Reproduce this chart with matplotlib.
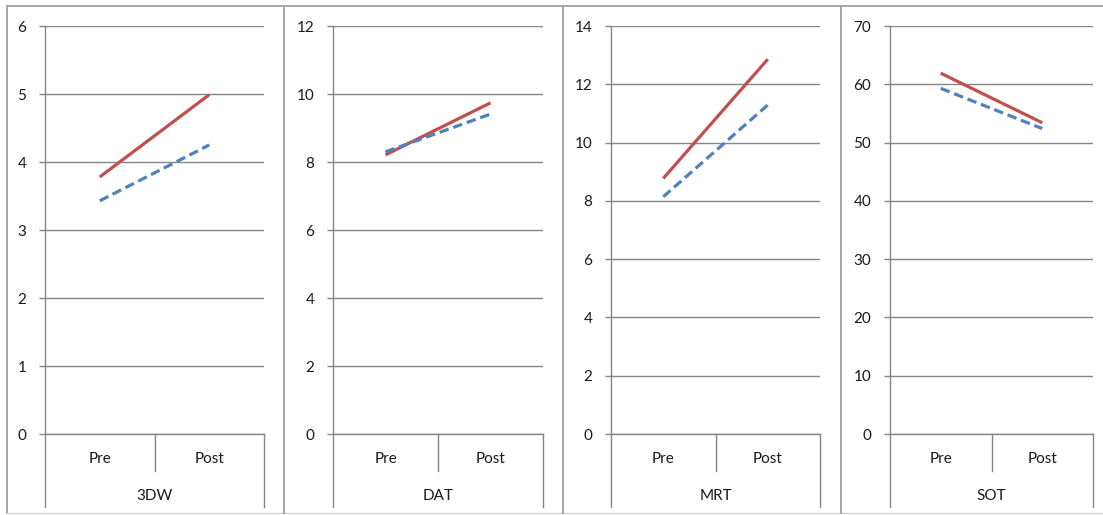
import matplotlib
matplotlib.use("Agg")
import matplotlib.pyplot as plt
from matplotlib.lines import Line2D

plt.rcParams['font.family'] = ['Lato', 'DejaVu Sans']

tests = ["3DW", "DAT", "MRT", "SOT"]
phases = ["Pre", "Post"]
red_series = [[3.78, 4.99], [8.21, 9.74], [8.77, 12.86], [61.9, 53.4]]
blue_series = [[3.43, 4.25], [8.30, 9.41], [8.14, 11.29], [59.3, 52.4]]
y_max = [6, 12, 14, 70]
y_step = [1, 2, 2, 10]

W, H = 1103, 515
fig = plt.figure(figsize=(W / 100, H / 100), dpi=100)

# panel geometry in pixels
panel_edges = [7, 284, 563, 841, 1103]
axis_left = [45, 333, 611, 890]
axis_right = [264, 543, 820, 1093]
top_px, zero_px = 26, 434

grid_c = "#868686"
frame_c = "#a0a0a0"
red = "#C0504D"
blue = "#4F81BD"
txt_c = "#1a1a1a"

def fline(x0, y0, x1, y1, c=frame_c, lw=1.0):
    fig.add_artist(Line2D([x0 / W, x1 / W], [1 - y0 / H, 1 - y1 / H],
                          color=c, lw=lw, transform=fig.transFigure))

fline(7, 6, 1103, 6, lw=1.3)
fline(7, 6, 7, 513, lw=1.3)
fline(7, 513, 1103, 513, c="#d0d0d0", lw=1.0)
for xe in panel_edges[1:4]:
    fline(xe, 6, xe, 513, lw=1.3)

for i, t in enumerate(tests):
    l, r = axis_left[i], axis_right[i]
    ax = fig.add_axes([l / W, 1 - zero_px / H, (r - l) / W, (zero_px - top_px) / H])
    ax.set_xlim(0, 2)
    ax.set_ylim(0, y_max[i])
    ax.set_yticks(range(0, y_max[i] + 1, y_step[i]))
    ax.yaxis.grid(True, color=grid_c, lw=1.0)
    ax.set_axisbelow(True)
    ax.tick_params(axis='y', length=4.5, width=1.0, color=grid_c, pad=9,
                   labelsize=11, labelcolor=txt_c)
    ax.set_xticks([])
    for s in ["top", "right"]:
        ax.spines[s].set_visible(False)
    ax.spines["left"].set_color(grid_c)
    ax.spines["bottom"].set_color(grid_c)
    ax.spines["left"].set_linewidth(1.0)
    ax.spines["bottom"].set_linewidth(1.0)

    xs = [0.5, 1.5]
    ax.plot(xs, red_series[i], color=red, lw=2.3, solid_capstyle='butt')
    ax.plot(xs, blue_series[i], color=blue, lw=2.3, ls=(0, (3.0, 1.5)),
            dash_capstyle='butt')

    # multi-level category axis
    ph = zero_px - top_px
    def yv(px):
        return -(px - zero_px) / ph * y_max[i]
    ax.plot([0, 0], [0, yv(507)], color=grid_c, lw=1.0, clip_on=False)
    ax.plot([2, 2], [0, yv(507)], color=grid_c, lw=1.0, clip_on=False)
    ax.plot([1, 1], [0, yv(471)], color=grid_c, lw=1.0, clip_on=False)
    for j, p in enumerate(phases):
        ax.text(xs[j], yv(459), p, ha='center', va='center', fontsize=11,
                color=txt_c, clip_on=False)
    ax.text(1, yv(496), t, ha='center', va='center', fontsize=11,
            color=txt_c, clip_on=False)

fig.savefig("out.png", dpi=100, facecolor="white")
